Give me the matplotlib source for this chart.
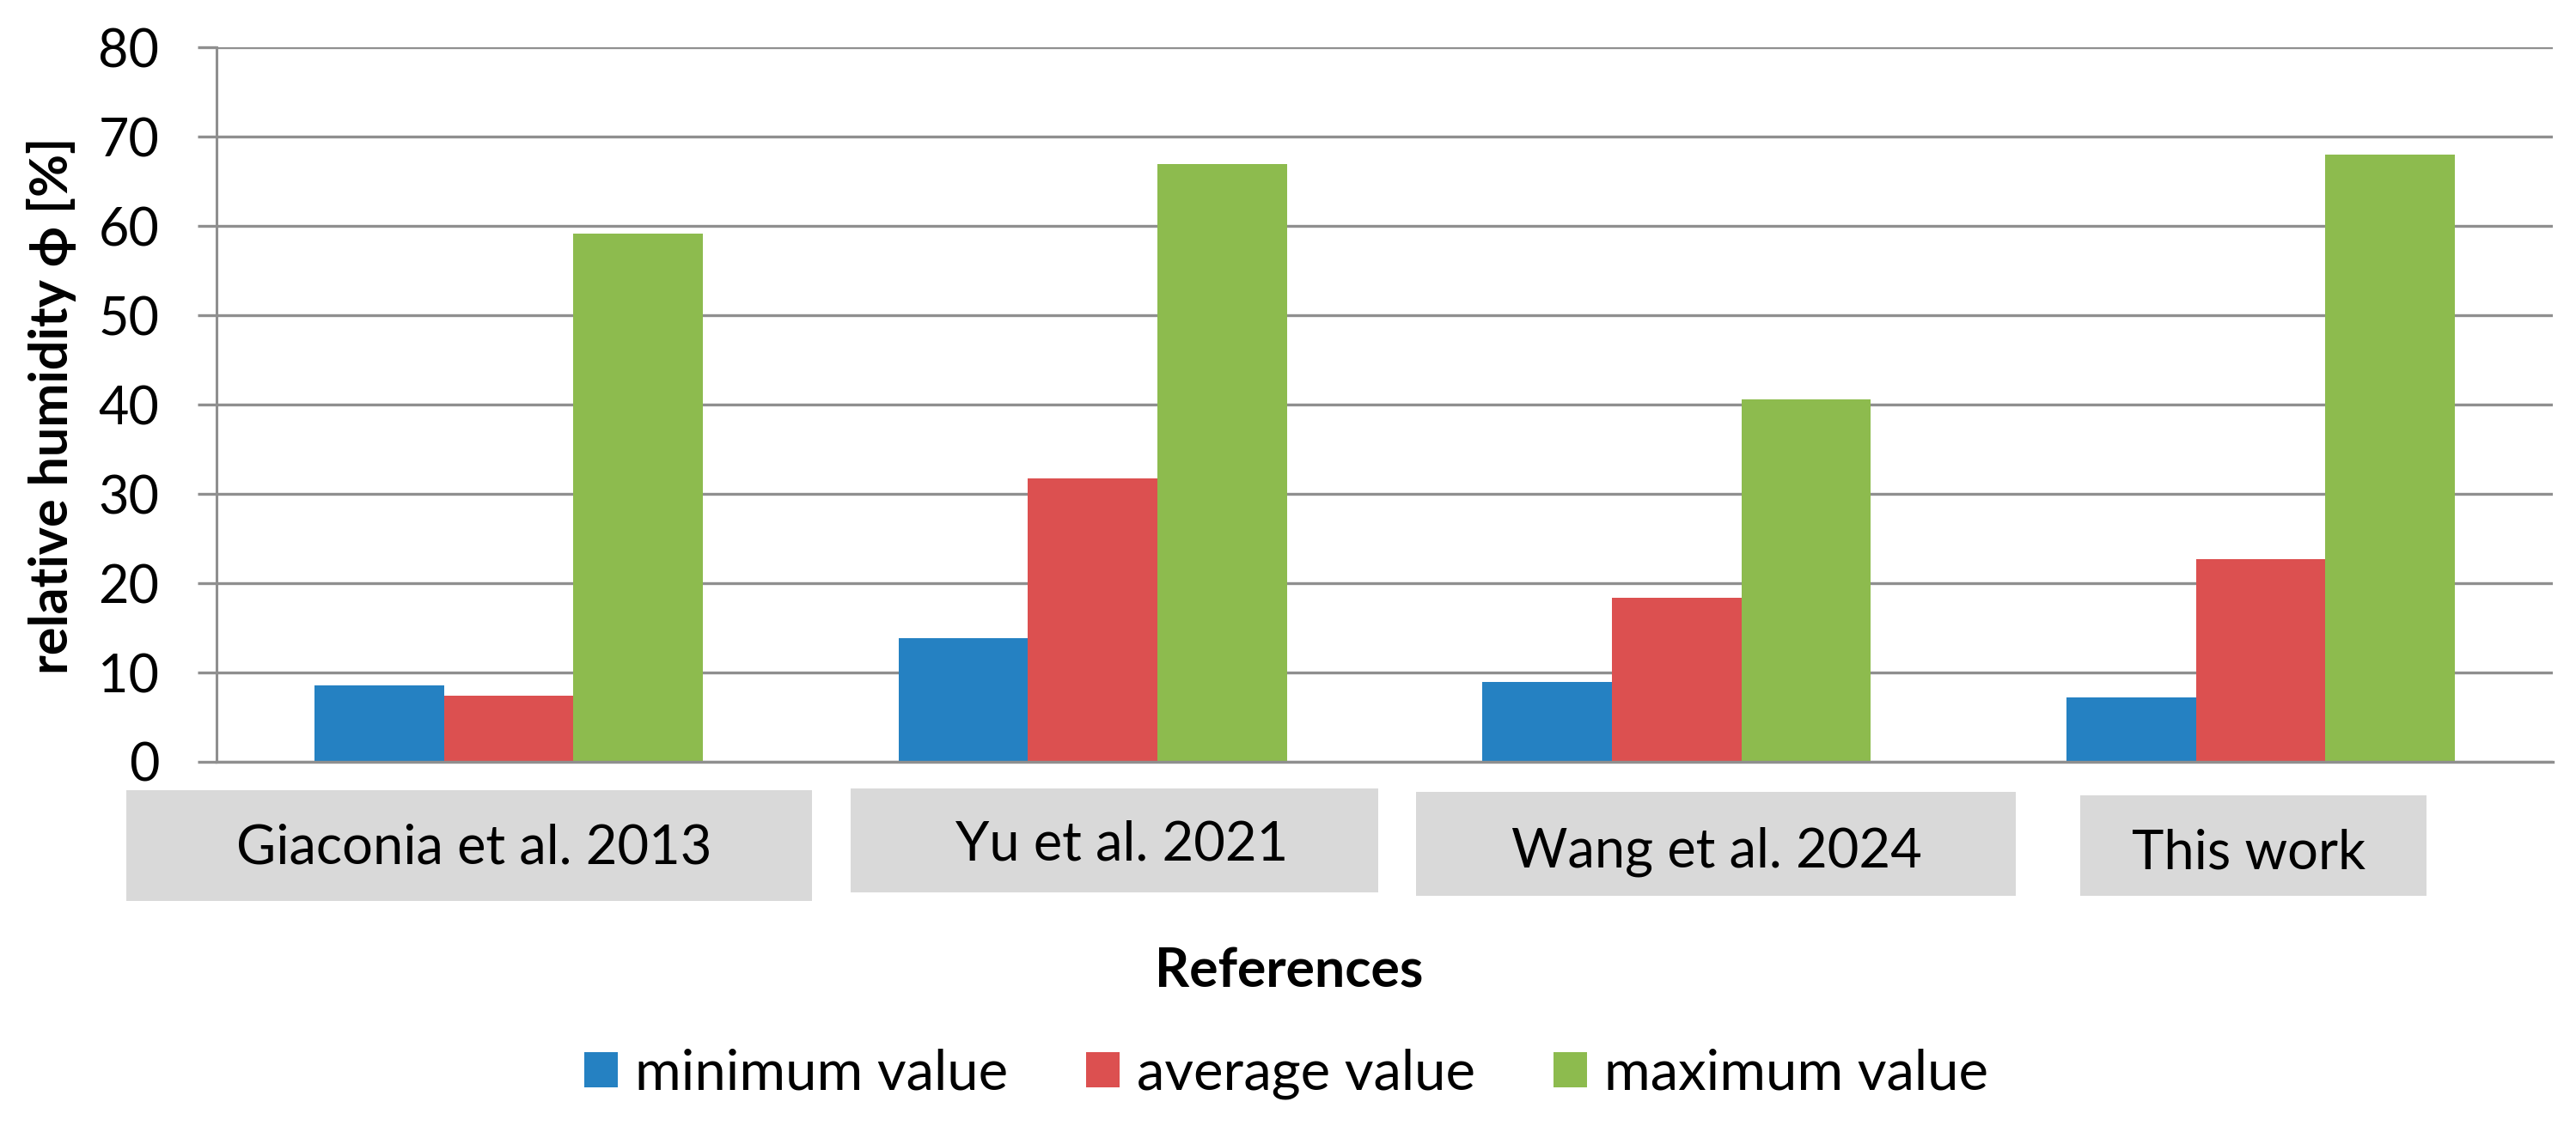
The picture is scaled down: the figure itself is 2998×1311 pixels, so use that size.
import matplotlib
matplotlib.use("Agg")
import matplotlib.pyplot as plt
from matplotlib.patches import Rectangle
import numpy as np

# ---- data ----
categories = ["Giaconia et al. 2013", "Yu et al. 2021", "Wang et al. 2024", "This work"]
series_names = ["minimum value", "average value", "maximum value"]
min_values = [8.6, 13.8, 8.9, 7.2]
avg_values = [7.4, 31.7, 18.4, 22.7]
max_values = [59.1, 66.9, 40.6, 68.0]
y_ticks = [0, 10, 20, 30, 40, 50, 60, 70, 80]
y_label = "relative humidity ϕ [%]"
x_label = "References"

colors = ["#2581C2", "#DC5050", "#8DBB4E"]
grid_color = "#8F8F8F"
box_color = "#D9D9D9"

W, H = 2998, 1311
DPI = 100
plt.rcParams['font.family'] = ['Lato', 'DejaVu Sans']

fig = plt.figure(figsize=(W / DPI, H / DPI), dpi=DPI)

def fx(x):
    return x / W

def fy(y):
    return 1 - y / H

ax_left, ax_right, ax_top, ax_bottom = 252, 2971, 55, 887
ax = fig.add_axes([fx(ax_left), fy(ax_bottom), (ax_right - ax_left) / W, (ax_bottom - ax_top) / H])

x = np.arange(len(categories))
w = 0.2217
for k, vals in enumerate([min_values, avg_values, max_values]):
    ax.bar(x + (k - 1) * w, vals, width=w, color=colors[k], label=series_names[k],
           linewidth=0, zorder=3)

ax.set_xlim(-0.5, len(categories) - 0.5)
ax.set_ylim(0, 80)
ax.set_yticks(y_ticks)
ax.set_yticklabels([str(t) for t in y_ticks], fontsize=44)
ax.yaxis.grid(True, color=grid_color, linewidth=2.4, zorder=1)
ax.set_axisbelow(True)
ax.tick_params(axis='y', length=16, width=2.4, color=grid_color, pad=32, direction='out')
ax.set_xticks([])
for s in ["top", "right"]:
    ax.spines[s].set_visible(False)
ax.spines["left"].set_color(grid_color)
ax.spines["left"].set_linewidth(2.2)
ax.spines["bottom"].set_color(grid_color)
ax.spines["bottom"].set_linewidth(2.4)
ax.spines["bottom"].set_zorder(4)

# category label boxes (Excel-style text boxes)
boxes = [(147, 920, 945, 1049), (990, 918, 1604, 1039), (1648, 922, 2346, 1043), (2421, 926, 2824, 1043)]
text_pos = [(552, 987), (1306, 983), (1998, 992), (2617, 993)]
for (x0, y0, x1, y1), (tx, ty), cat in zip(boxes, text_pos, categories):
    fig.patches.append(Rectangle((fx(x0), fy(y1)), (x1 - x0) / W, (y1 - y0) / H,
                                 transform=fig.transFigure, facecolor=box_color,
                                 edgecolor='none', zorder=0))
    fig.text(fx(tx), fy(ty), cat, ha='center', va='center', fontsize=45.5)

fig.text(fx(1500), fy(1131), x_label, ha='center', va='center', fontsize=45, fontweight='bold')
fig.text(fx(60), fy(472), y_label, ha='center', va='center', rotation=90, fontsize=44,
         fontweight='bold')

handles, labels = ax.get_legend_handles_labels()
fig.legend(handles, labels, loc='center', bbox_to_anchor=(fx(1497), fy(1250)), ncol=3,
           frameon=False, fontsize=47, handlelength=0.6, handleheight=0.58,
           handletextpad=0.3, columnspacing=1.4)

fig.savefig("out.png", dpi=DPI)
